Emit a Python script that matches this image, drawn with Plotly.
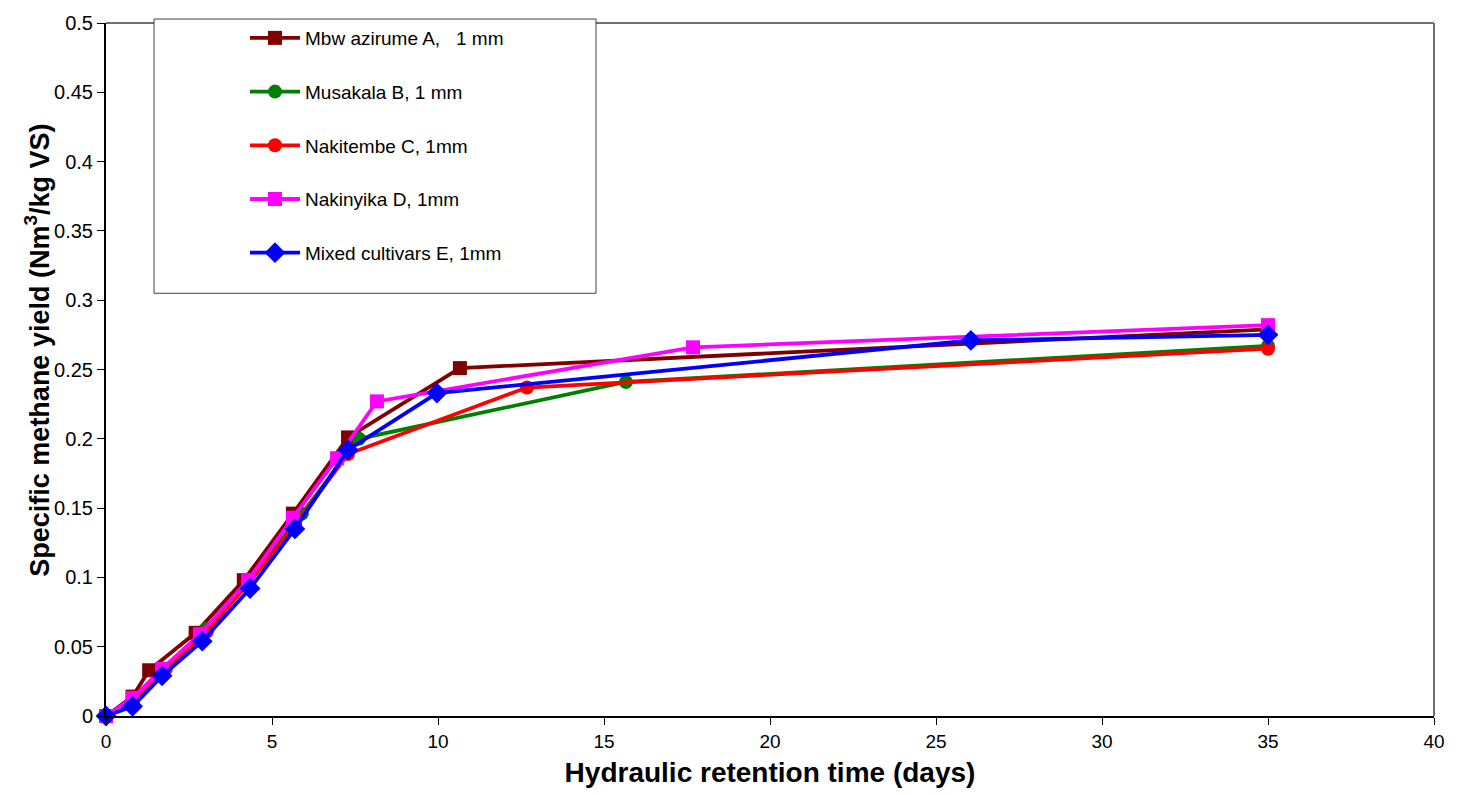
import plotly.graph_objects as go

# ---- data ----
names = ["Mbw azirume A,   1 mm", "Musakala B, 1 mm", "Nakitembe C, 1mm",
         "Nakinyika D, 1mm", "Mixed cultivars E, 1mm"]

x_A = [0, 0.8, 1.3, 2.7, 4.15, 5.63, 7.29, 10.66, 35]
y_A = [0, 0.014, 0.033, 0.060, 0.098, 0.146, 0.201, 0.251, 0.279]

x_B = [0, 0.8, 1.75, 3.04, 4.3, 5.9, 7.62, 15.66, 35]
y_B = [0, 0.011, 0.034, 0.063, 0.097, 0.146, 0.200, 0.241, 0.267]

x_C = [0, 0.8, 1.8, 3.04, 4.3, 5.7, 7.29, 12.68, 35]
y_C = [0, 0.011, 0.034, 0.061, 0.096, 0.138, 0.189, 0.237, 0.265]

x_D = [0, 0.8, 1.69, 2.83, 4.28, 5.63, 6.96, 8.16, 17.68, 35]
y_D = [0, 0.013, 0.034, 0.059, 0.098, 0.143, 0.186, 0.227, 0.266, 0.282]

x_E = [0, 0.8, 1.69, 2.9, 4.34, 5.69, 7.29, 9.97, 26.05, 35]
y_E = [0, 0.007, 0.029, 0.054, 0.092, 0.135, 0.192, 0.233, 0.271, 0.275]

x_ticks = [0, 5, 10, 15, 20, 25, 30, 35, 40]
y_ticks = [0, 0.05, 0.1, 0.15, 0.2, 0.25, 0.3, 0.35, 0.4, 0.45, 0.5]
y_tick_text = ["0", "0.05", "0.1", "0.15", "0.2", "0.25", "0.3", "0.35", "0.4", "0.45", "0.5"]

colors = ["#800000", "#008000", "#FF0000", "#FF00FF", "#0000FF"]
symbols = ["square", "circle", "circle", "square", "diamond"]
sizes = [14, 14, 14, 14, 16]

xs = [x_A, x_B, x_C, x_D, x_E]
ys = [y_A, y_B, y_C, y_D, y_E]

fig = go.Figure()
for i in range(5):
    fig.add_trace(go.Scatter(
        x=xs[i], y=ys[i], name=names[i], mode="lines+markers",
        line=dict(color=colors[i], width=3.8),
        marker=dict(symbol=symbols[i], size=sizes[i], color=colors[i]),
        legendgroup=str(i), cliponaxis=False,
    ))

L, R, T, B = 106, 27, 17, 78
W, H = 1461, 795
pw, ph = W - L - R, H - T - B

def px_x(px):
    return (px - L) / pw

def px_y(py):
    return (H - B - py) / ph

fig.update_layout(
    width=W, height=H,
    margin=dict(l=L, r=R, t=T, b=B),
    paper_bgcolor="white", plot_bgcolor="white",
    font=dict(family="Liberation Sans, Arial, sans-serif", color="black"),
    showlegend=True,
    legend=dict(
        x=px_x(245), y=px_y(13), xanchor="left", yanchor="top",
        bgcolor="rgba(0,0,0,0)", borderwidth=0,
        font=dict(size=19, family="Liberation Sans, Arial, sans-serif"),
        tracegroupgap=26, itemwidth=50,
    ),
    xaxis=dict(
        range=[0, 40], tickvals=x_ticks, ticktext=[str(v) for v in x_ticks],
        showgrid=False, zeroline=False, showline=True, linecolor="black", linewidth=2,
        ticks="outside", ticklen=7, tickwidth=1, tickcolor="black",
        tickfont=dict(size=19, family="Liberation Sans Narrow, Arial Narrow, Liberation Sans, sans-serif"),
        title=dict(text="<b>Hydraulic retention time (days)</b>",
                   font=dict(size=28, family="Liberation Sans, Arial, sans-serif"), standoff=12),
    ),
    yaxis=dict(
        range=[0, 0.5], tickvals=y_ticks, ticktext=y_tick_text,
        showgrid=False, zeroline=False, showline=True, linecolor="black", linewidth=2,
        ticks="outside", ticklen=7, tickwidth=1, tickcolor="black",
        tickfont=dict(size=20, family="Liberation Sans, Arial, sans-serif"),
    ),
    annotations=[
        dict(text="<b>Specific methane yield (Nm<sup>3</sup>/kg VS)</b>",
             xref="paper", yref="paper", x=px_x(37), y=px_y(348),
             xanchor="center", yanchor="middle", textangle=-90, showarrow=False,
             font=dict(size=27, family="Liberation Sans, Arial, sans-serif", color="black")),
    ],
    shapes=[
        # grey top and right frame of the plot area
        dict(type="line", xref="paper", yref="paper", x0=0, x1=1, y0=1, y1=1,
             line=dict(color="#707070", width=2)),
        dict(type="line", xref="paper", yref="paper", x0=1, x1=1, y0=0, y1=1,
             line=dict(color="#707070", width=2)),
        # legend box
        dict(type="rect", xref="paper", yref="paper",
             x0=px_x(154), x1=px_x(596), y0=px_y(290), y1=px_y(13),
             line=dict(color="#404040", width=1), fillcolor="white", layer="above"),
    ],
)

fig.write_html("out.html")
